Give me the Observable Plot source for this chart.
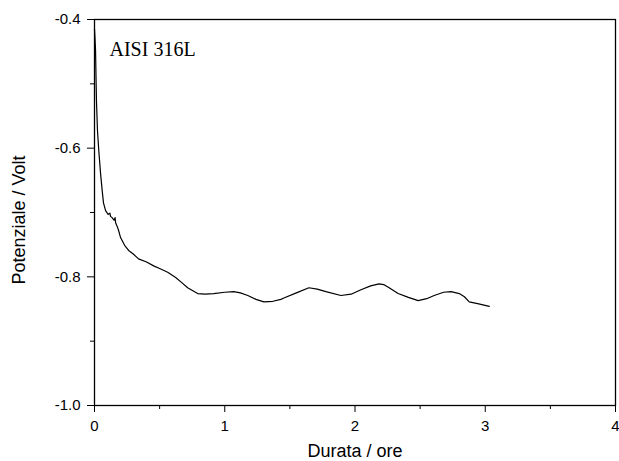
<!DOCTYPE html>
<html>
<head>
<meta charset="utf-8">
<script src="https://cdn.jsdelivr.net/npm/d3@7"></script>
<script src="https://cdn.jsdelivr.net/npm/@observablehq/plot@0.6"></script>
<style>
  html, body { margin: 0; padding: 0; background: white; }
</style>
</head>
<body>
<div id="chart"></div>
<script>
// Durata / ore
const times = [0, 0.004, 0.008, 0.015, 0.023, 0.033, 0.046, 0.059, 0.069, 0.085, 0.105, 0.118, 0.123, 0.135, 0.15, 0.158, 0.162, 0.175, 0.185, 0.2, 0.231, 0.262, 0.3, 0.338, 0.4, 0.454, 0.5, 0.562, 0.623, 0.67, 0.715, 0.792, 0.85, 0.915, 1.0, 1.069, 1.12, 1.177, 1.24, 1.3, 1.37, 1.431, 1.454, 1.55, 1.646, 1.71, 1.777, 1.892, 1.97, 2.046, 2.12, 2.185, 2.22, 2.262, 2.331, 2.41, 2.485, 2.55, 2.608, 2.68, 2.738, 2.8, 2.84, 2.877, 2.95, 3.031];
// Potenziale / Volt
const potentials = [-0.415, -0.43, -0.448, -0.526, -0.573, -0.604, -0.638, -0.666, -0.685, -0.697, -0.703, -0.701, -0.706, -0.708, -0.712, -0.708, -0.716, -0.722, -0.728, -0.739, -0.751, -0.759, -0.765, -0.772, -0.777, -0.783, -0.787, -0.793, -0.801, -0.809, -0.817, -0.826, -0.827, -0.826, -0.824, -0.823, -0.825, -0.829, -0.835, -0.839, -0.838, -0.835, -0.833, -0.825, -0.817, -0.819, -0.823, -0.829, -0.827, -0.82, -0.814, -0.811, -0.812, -0.817, -0.826, -0.832, -0.837, -0.834, -0.829, -0.824, -0.823, -0.826, -0.831, -0.839, -0.842, -0.846];

const xMajor = [0, 1, 2, 3, 4];
const xMinor = [0.5, 1.5, 2.5, 3.5];
const yMajor = [-1.0, -0.8, -0.6, -0.4];
const yMinor = [-0.9, -0.7, -0.5];

const data = times.map((t, i) => ({t, v: potentials[i]}));

const chart = Plot.plot({
  width: 619,
  height: 461,
  marginLeft: 94,
  marginRight: 4,
  marginTop: 19,
  marginBottom: 56,
  x: {domain: [0, 4]},
  y: {domain: [-1.0, -0.4]},
  style: {fontFamily: "'Liberation Sans', Arial, sans-serif", fontSize: "15px", background: "white", color: "black"},
  marks: [
    Plot.axisX(xMajor, {tickSize: 7, tickFormat: () => "", label: null}),
    Plot.axisX(xMinor, {tickSize: 4, tickFormat: () => "", label: null}),
    Plot.axisY(yMajor, {tickSize: 7, tickFormat: () => "", label: null}),
    Plot.axisY(yMinor, {tickSize: 4, tickFormat: () => "", label: null}),
    Plot.text(xMajor, {x: d => d, text: d => String(d), frameAnchor: "bottom", lineAnchor: "top", textAnchor: "middle", dy: 15, fontSize: 15}),
    Plot.text(yMajor, {y: d => d, text: d => d.toFixed(1), frameAnchor: "left", lineAnchor: "middle", textAnchor: "end", dx: -14, fontSize: 15}),
    Plot.line(data, {x: "t", y: "v", stroke: "black", strokeWidth: 1.2}),
    Plot.frame({stroke: "black", strokeWidth: 1.3}),
    Plot.text(["AISI 316L"], {frameAnchor: "top-left", dx: 15, dy: 22, textAnchor: "start", lineAnchor: "top", fontFamily: "'Liberation Serif', 'Times New Roman', serif", fontSize: 20}),
    Plot.text(["Durata / ore"], {frameAnchor: "bottom", dy: 46, lineAnchor: "middle", textAnchor: "middle", fontSize: 18}),
    Plot.text(["Potenziale / Volt"], {frameAnchor: "left", rotate: -90, dx: -75.5, dy: 7.5, lineAnchor: "middle", textAnchor: "middle", fontSize: 18})
  ]
});
document.getElementById("chart").appendChild(chart);
</script>
</body>
</html>
